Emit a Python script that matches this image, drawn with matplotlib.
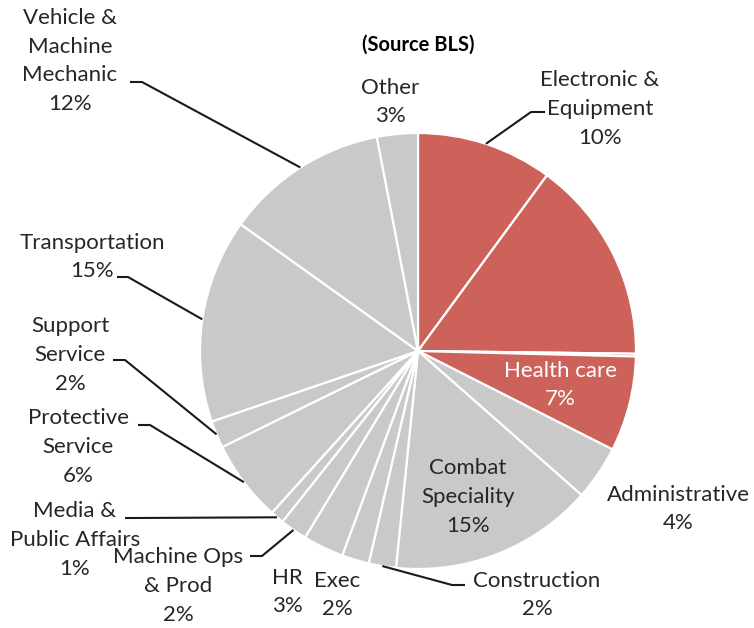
import matplotlib
matplotlib.use("Agg")
import matplotlib.pyplot as plt
import numpy as np

# ---- data ----
categories = ["Electronic &\nEquipment", "", "", "Health care", "Administrative",
              "Combat\nSpeciality", "Construction", "Exec", "HR",
              "Machine Ops\n& Prod", "Media &\nPublic Affairs", "Protective\nService",
              "Support\nService", "Transportation", "Vehicle &\nMachine\nMechanic", "Other"]
values = [10, 15, 0.2, 7, 4, 15, 2, 2, 3, 2, 1, 6, 2, 15, 12, 3]
pct_labels = ["10%", "", "", "7%", "4%", "15%", "2%", "2%", "3%", "2%", "1%", "6%",
              "2%", "15%", "12%", "3%"]
highlight = [True, True, True, True] + [False] * 12
subtitle = "(Source BLS)"

RED = "#CD625B"
GREY = "#C9C9C9"

W, H = 754, 628
fig = plt.figure(figsize=(W / 100, H / 100), dpi=100)
ax = fig.add_axes([0, 0, 1, 1])

def py(y):
    return H - y

cx, cy, R = 418, py(351), 218
colors = [RED if h else GREY for h in highlight]
wedges, _ = ax.pie(values, colors=colors, startangle=90, counterclock=False,
                   center=(cx, cy), radius=R, frame=True,
                   wedgeprops=dict(edgecolor="white", linewidth=1.6))
ax.set_xlim(0, W)
ax.set_ylim(0, H)
ax.set_aspect("equal")
ax.axis("off")

FONT = "Lato"
FS = 16.0

# text layout (pixel positions)
layout = {
    0: (600, 109, "#262626"),
    3: (560, 385, "white"),
    4: (678, 509, "#262626"),
    5: (468, 497, "#262626"),
    6: (537, 595, "#262626"),
    7: (337, 595, "#262626"),
    8: (287, 592, "#262626"),
    9: (178, 586, "#262626"),
    10: (75, 540, "#262626"),
    11: (78, 447, "#262626"),
    12: (70, 355, "#262626"),
    13: (92, 257, "#262626"),
    14: (70, 61, "#262626"),
    15: (390, 102, "#262626"),
}
for i, (x, y, c) in layout.items():
    ax.text(x, py(y), categories[i] + "\n" + pct_labels[i], ha="center", va="center",
            fontsize=FS, family=FONT, color=c, linespacing=1.55)

# leader lines: stub (x0, x1, y) in pixels, then to the wedge edge at its mid-angle
leaders = {
    14: (130, 142, 82),
    0: (545, 531, 112),
    13: (117, 128, 277),
    12: (113, 125, 360),
    11: (138, 150, 425),
    10: (125, 135, 518),
    9: (250, 262, 556),
    6: (465, 452, 585),
}
for i, (x0, x1, y) in leaders.items():
    w = wedges[i]
    ang = np.deg2rad((w.theta1 + w.theta2) / 2)
    ex = cx + R * np.cos(ang)
    ey = cy + R * np.sin(ang)
    ax.plot([x0, x1, ex], [py(y), py(y), ey], color="#1a1a1a", lw=1.5,
            solid_capstyle="butt")

ax.text(cx, py(45), subtitle, ha="center", va="center", fontsize=FS - 1.5,
        family=FONT, fontweight="bold", color="black")

fig.savefig("out.png", dpi=100)
